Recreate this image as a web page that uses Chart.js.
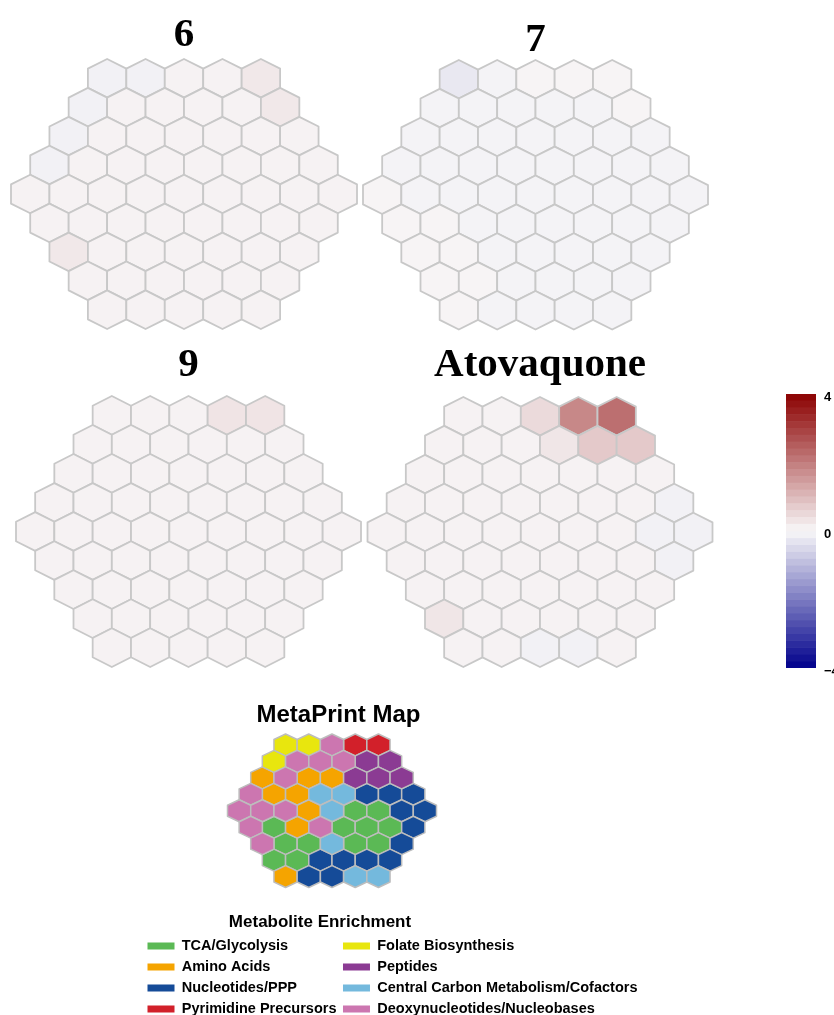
<!DOCTYPE html>
<html>
<head>
<meta charset="utf-8">
<script src="https://cdn.jsdelivr.net/npm/chart.js@4.4.1/dist/chart.umd.min.js"></script>
<style>
  html, body { margin: 0; padding: 0; background: #fff; width: 834px; height: 1015px; overflow: hidden; position: relative; }
  canvas { position: absolute; }
</style>
</head>
<body>
<canvas id="panel6"></canvas>
<canvas id="panel7"></canvas>
<canvas id="panel9"></canvas>
<canvas id="panelAto"></canvas>
<canvas id="colorbar"></canvas>
<canvas id="metaprint"></canvas>
<canvas id="legendTitle"></canvas>
<canvas id="legendChart"></canvas>
<script>
// cells per row of the hexagonal map (top to bottom)
const rowSizes = [5, 6, 7, 8, 9, 8, 7, 6, 5];

// log2 fold change per cell, row by row
const values6 = [
  -0.1, -0.1, 0.08, 0.08, 0.25,
  -0.1, 0.08, 0.08, 0.08, 0.08, 0.25,
  -0.1, 0.08, 0.08, 0.08, 0.08, 0.08, 0.08,
  -0.1, 0.08, 0.08, 0.08, 0.08, 0.08, 0.08, 0.08,
  0.08, 0.08, 0.08, 0.08, 0.08, 0.08, 0.08, 0.08, 0.08,
  0.08, 0.08, 0.08, 0.08, 0.08, 0.08, 0.08, 0.08,
  0.25, 0.08, 0.08, 0.08, 0.08, 0.08, 0.08,
  0.08, 0.08, 0.08, 0.08, 0.08, 0.08,
  0.08, 0.08, 0.08, 0.08, 0.08
];
const values7 = [
  -0.25, -0.07, 0.05, 0.05, 0.05,
  -0.07, -0.07, -0.07, -0.07, -0.07, 0.05,
  -0.07, -0.07, -0.07, -0.07, -0.07, -0.07, -0.07,
  -0.07, -0.07, -0.07, -0.07, -0.07, -0.07, -0.07, -0.07,
  0.05, -0.07, -0.07, -0.07, -0.07, -0.07, -0.07, -0.07, -0.07,
  0.05, 0.05, -0.07, -0.07, -0.07, -0.07, -0.07, -0.07,
  0.05, 0.05, -0.07, -0.07, -0.07, -0.07, -0.07,
  0.05, 0.05, -0.07, -0.07, -0.07, -0.07,
  0.05, -0.07, -0.07, -0.07, -0.07
];
const values9 = [
  0.08, 0.08, 0.08, 0.3, 0.3,
  0.08, 0.08, 0.08, 0.08, 0.08, 0.08,
  0.08, 0.08, 0.08, 0.08, 0.08, 0.08, 0.08,
  0.08, 0.08, 0.08, 0.08, 0.08, 0.08, 0.08, 0.08,
  0.08, 0.08, 0.08, 0.08, 0.08, 0.08, 0.08, 0.08, 0.08,
  0.08, 0.08, 0.08, 0.08, 0.08, 0.08, 0.08, 0.08,
  0.08, 0.08, 0.08, 0.08, 0.08, 0.08, 0.08,
  0.08, 0.08, 0.08, 0.08, 0.08, 0.08,
  0.08, 0.08, 0.08, 0.08, 0.08
];
const valuesAto = [
  0.08, 0.08, 0.47, 1.8, 2.2,
  0.08, 0.08, 0.08, 0.28, 0.75, 0.75,
  0.08, 0.08, 0.08, 0.08, 0.08, 0.08, 0.08,
  0.08, 0.08, 0.08, 0.08, 0.08, 0.08, 0.08, -0.1,
  0.08, 0.08, 0.08, 0.08, 0.08, 0.08, 0.08, -0.1, -0.1,
  0.08, 0.08, 0.08, 0.08, 0.08, 0.08, 0.08, -0.1,
  0.08, 0.08, 0.08, 0.08, 0.08, 0.08, 0.08,
  0.28, 0.08, 0.08, 0.08, 0.08, 0.08,
  0.08, 0.08, -0.1, -0.1, 0.08
];

const colorbarTicks = [4, 0, -4];
const colorbarStep = 0.2;

const categoryNames = [
  'TCA/Glycolysis', 'Amino Acids', 'Nucleotides/PPP', 'Pyrimidine Precursors',
  'Folate Biosynthesis', 'Peptides', 'Central Carbon Metabolism/Cofactors', 'Deoxynucleotides/Nucleobases'
];
const categoryColors = ['#5bb955', '#f5a400', '#154b98', '#d2202a', '#e8e60e', '#8b3b93', '#74b9dd', '#cc76b0'];

// category index of every MetaPrint cell, row by row
const metaprintCategory = [
  4, 4, 7, 3, 3,
  4, 7, 7, 7, 5, 5,
  1, 7, 1, 1, 5, 5, 5,
  7, 1, 1, 6, 6, 2, 2, 2,
  7, 7, 7, 1, 6, 0, 0, 2, 2,
  7, 0, 1, 7, 0, 0, 0, 2,
  7, 0, 0, 6, 0, 0, 2,
  0, 0, 2, 2, 2, 2,
  1, 2, 2, 6, 6
];

// ---- helpers ----
const LOW = [0, 0, 139], MID = [248, 247, 248], HIGH = [139, 0, 0];
function valueColor(v) {
  const t = Math.max(-1, Math.min(1, v / 4));
  const end = t < 0 ? LOW : HIGH;
  const a = Math.abs(t);
  const c = MID.map((m, i) => Math.round(m + (end[i] - m) * a));
  return 'rgb(' + c.join(',') + ')';
}

function hexCells(values) {
  const cells = [];
  let k = 0;
  rowSizes.forEach((n, r) => {
    for (let c = 0; c < n; c++) cells.push({x: c - (n - 1) / 2, y: r, v: values[k++]});
  });
  return cells;
}

// pointy-top hexagon, in data units (x: one cell wide, y: rows)
const HEX = [[0, -2 / 3], [0.5, -1 / 3], [0.5, 1 / 3], [0, 2 / 3], [-0.5, 1 / 3], [-0.5, -1 / 3]];
const hexPlugin = {
  id: 'hexCells',
  afterDatasetsDraw(chart) {
    const ctx = chart.ctx, xs = chart.scales.x, ys = chart.scales.y;
    ctx.save();
    ctx.lineJoin = 'round';
    chart.data.datasets.forEach(ds => {
      ds.data.forEach((p, i) => {
        ctx.beginPath();
        HEX.forEach(([dx, dy], k) => {
          const px = xs.getPixelForValue(p.x + dx), py = ys.getPixelForValue(p.y + dy);
          if (k) ctx.lineTo(px, py); else ctx.moveTo(px, py);
        });
        ctx.closePath();
        ctx.fillStyle = Array.isArray(ds.backgroundColor) ? ds.backgroundColor[i] : ds.backgroundColor;
        ctx.fill();
        ctx.lineWidth = ds.borderWidth;
        ctx.strokeStyle = ds.borderColor;
        ctx.stroke();
      });
    });
    ctx.restore();
  }
};

function place(id, left, top, width, height) {
  const cv = document.getElementById(id);
  cv.width = width; cv.height = height;
  cv.style.left = left + 'px'; cv.style.top = top + 'px';
  return cv;
}

const yRange = {min: -2 / 3, max: 8 + 2 / 3};
const off = {responsive: false, animation: false, events: []};

function heatPanel(id, title, values, box) {
  const titleTop = box.base - 20.5 - 11.3;
  const cl = Math.floor(box.l) - 3, cr = Math.ceil(box.r) + 3;
  const ct = Math.floor(titleTop) - 2, cb = Math.ceil(box.b) + 3;
  const cv = place(id, cl, ct, cr - cl, cb - ct);
  const cells = hexCells(values);
  return new Chart(cv, {
    type: 'scatter',
    data: {
      datasets: [{
        label: title,
        data: cells,
        backgroundColor: cells.map(c => valueColor(c.v)),
        borderColor: '#c8c8c8',
        borderWidth: 1.8,
        pointRadius: 0
      }]
    },
    options: {
      ...off,
      layout: {padding: {left: box.l - cl, right: cr - box.r, top: titleTop - ct, bottom: cb - box.b}},
      plugins: {
        legend: {display: false},
        tooltip: {enabled: false},
        title: {
          display: true,
          text: title,
          color: '#000',
          font: {family: 'Liberation Serif', size: 41, weight: 'bold', lineHeight: 1},
          padding: {top: 0, bottom: box.t - titleTop - 41}
        }
      },
      scales: {
        x: {type: 'linear', display: false, min: -4.5, max: 4.5},
        y: {type: 'linear', display: false, reverse: true, min: yRange.min, max: yRange.max}
      }
    },
    plugins: [hexPlugin]
  });
}

heatPanel('panel6', '6', values6, {l: 11, r: 357, t: 59, b: 329, base: 47});
heatPanel('panel7', '7', values7, {l: 363, r: 708, t: 60, b: 329.5, base: 52});
heatPanel('panel9', '9', values9, {l: 16, r: 361, t: 396, b: 667, base: 377});
heatPanel('panelAto', 'Atovaquone', valuesAto, {l: 367.5, r: 712.5, t: 397, b: 667, base: 377});

// ---- colour bar ----
const cbDatasets = [];
for (let i = 0; i < 4 / colorbarStep; i++) {
  const mid = (i + 0.5) * colorbarStep;
  cbDatasets.push({data: [colorbarStep], backgroundColor: valueColor(mid), borderWidth: 0});
  cbDatasets.push({data: [-colorbarStep], backgroundColor: valueColor(-mid), borderWidth: 0});
}
new Chart(place('colorbar', 786, 384, 70, 294), {
  type: 'bar',
  data: {labels: ['log2FC'], datasets: cbDatasets},
  options: {
    ...off,
    barPercentage: 1,
    categoryPercentage: 1,
    layout: {padding: {top: 10, bottom: 10, left: 0, right: 0}},
    plugins: {legend: {display: false}, tooltip: {enabled: false}},
    scales: {
      x: {display: false, stacked: true},
      y: {
        stacked: true,
        position: 'right',
        min: -4, max: 4,
        grid: {display: false, drawTicks: true, tickLength: 8},
        border: {display: false},
        afterBuildTicks: s => { s.ticks = colorbarTicks.map(v => ({value: v})); },
        afterFit: s => { s.width = 40; },
        ticks: {
          padding: 0,
          labelOffset: 3,
          color: '#000',
          font: {family: 'Liberation Sans', size: 13, weight: 'bold'},
          callback: v => (v < 0 ? '\u2212' + Math.abs(v) : String(v))
        }
      }
    }
  }
});

// ---- MetaPrint map ----
const mp = {l: 227.5, r: 436.5, t: 734, b: 887.5, base: 722, titleCenter: 338.5};
const mpUnit = (mp.r - mp.l) / 9;
const mpInnerRight = 2 * mp.titleCenter - mp.l;
const mpTitleTop = mp.base - 12 - 6.5;
const mpTop = Math.floor(mpTitleTop) - 2;
const mpCanvas = place('metaprint', 224, mpTop, Math.ceil(mpInnerRight) + 3 - 224, Math.ceil(mp.b) + 3 - mpTop);
const mpCells = hexCells(metaprintCategory);
new Chart(mpCanvas, {
  type: 'scatter',
  data: {
    datasets: categoryNames.map((name, ci) => ({
      label: name,
      data: mpCells.filter(c => c.v === ci),
      backgroundColor: categoryColors[ci],
      borderColor: '#bdbdbd',
      borderWidth: 1.5,
      pointRadius: 0
    }))
  },
  options: {
    ...off,
    layout: {padding: {left: mp.l - 224, right: mpCanvas.width - (mpInnerRight - 224), top: mpTitleTop - mpTop, bottom: mpCanvas.height - (mp.b - mpTop)}},
    plugins: {
      legend: {display: false},
      tooltip: {enabled: false},
      title: {
        display: true,
        text: 'MetaPrint Map',
        color: '#000',
        font: {family: 'Liberation Sans', size: 24, weight: 'bold', lineHeight: 1},
        padding: {top: 0, bottom: mp.t - mpTitleTop - 24}
      }
    },
    scales: {
      x: {type: 'linear', display: false, min: -4.5, max: 4.5 + (mpInnerRight - mp.r) / mpUnit},
      y: {type: 'linear', display: false, reverse: true, min: yRange.min, max: yRange.max}
    }
  },
  plugins: [hexPlugin]
});

// ---- legend title (centred at x = 320) ----
new Chart(place('legendTitle', 141, 905, 358, 26), {
  type: 'bar',
  data: {labels: [], datasets: []},
  options: {
    ...off,
    layout: {padding: {top: 927 - 8.5 - 4.5 - 905, bottom: 0, left: 0, right: 0}},
    plugins: {
      tooltip: {enabled: false},
      legend: {display: false},
      title: {
        display: true,
        text: 'Metabolite Enrichment',
        color: '#000',
        font: {family: 'Liberation Sans', size: 17, weight: 'bold', lineHeight: 1},
        padding: 0
      }
    },
    scales: {x: {display: false}, y: {display: false}}
  }
});

// ---- legend ----
new Chart(place('legendChart', 135, 925, 570, 108), {
  type: 'bar',
  data: {
    labels: [],
    datasets: categoryNames.map((name, ci) => ({label: name, data: [], backgroundColor: categoryColors[ci], borderWidth: 0}))
  },
  options: {
    ...off,
    layout: {padding: {left: 6, right: 0, top: 7.2, bottom: 0.8}},
    plugins: {
      tooltip: {enabled: false},
      legend: {
        display: true,
        position: 'left',
        align: 'start',
        maxWidth: 560,
        labels: {
          boxWidth: 27,
          boxHeight: 7,
          padding: 6.5,
          color: '#000',
          font: {family: 'Liberation Sans', size: 14.5, weight: 'bold'}
        }
      }
    },
    scales: {x: {display: false}, y: {display: false}}
  }
});
</script>
</body>
</html>
